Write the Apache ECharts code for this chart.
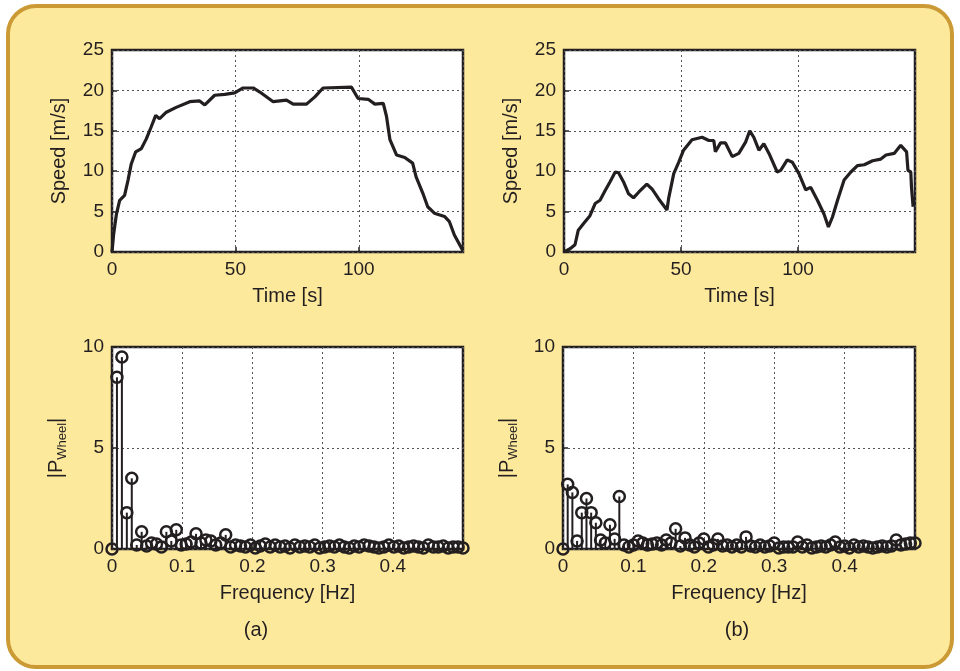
<!DOCTYPE html>
<html lang="en">
<head>
    <meta charset="UTF-8">
    <title>Speed and wheel power spectrum</title>
    <script src="https://cdn.jsdelivr.net/npm/echarts@6/dist/echarts.min.js"></script>
    <style>
        html, body { margin: 0; padding: 0; background: #fff; }
    </style>
</head>
<body>
<div id="chartmain" style="width:960px;height:671px"></div>
<script type="text/javascript">
    // (a) speed profile
    var timeA = [0, 0.7, 1.8, 3.1, 5.1, 6.5, 7.8, 9.6, 11.9, 13.9, 15.9, 17.7, 19.3, 22, 26, 31.5, 35.5, 37.6, 41.6, 45.7, 49.7, 53.1, 57.2, 59.9, 65.3, 70.7, 73.4, 78.8, 82.2, 85.5, 97, 97.7, 99.7, 103.8, 106.5, 109.9, 111.2, 112.6, 115.3, 118.6, 121.8, 123.2, 125.9, 127.9, 130.6, 134.7, 136.7, 138.7, 142.1];
    var speedA = [0, 2.3, 4.7, 6.4, 7, 8.9, 10.9, 12.4, 12.8, 14, 15.5, 16.9, 16.5, 17.3, 17.9, 18.6, 18.7, 18.2, 19.4, 19.5, 19.7, 20.3, 20.3, 19.8, 18.6, 18.8, 18.3, 18.3, 19.2, 20.3, 20.4, 20.2, 19, 18.9, 18.3, 18.4, 16.8, 13.9, 12, 11.7, 11, 9.3, 7.3, 5.6, 4.8, 4.4, 3.75, 2.1, 0.2];

    // (b) speed profile
    var timeB = [0, 2.6, 4.7, 6.1, 8.3, 11.1, 13.3, 15.4, 17.6, 19.7, 21.9, 23.3, 25.4, 27.6, 29.7, 31.9, 35.4, 37.6, 40.4, 44, 44.7, 46.9, 49, 51.1, 54.7, 59, 61.9, 64, 64.7, 66.9, 69, 71.9, 74.7, 77.6, 79.4, 81.1, 83.3, 85.4, 87.6, 91.1, 92.6, 95.4, 97.6, 100.4, 103.3, 105.4, 108.3, 111.1, 113, 114.7, 116.9, 119.7, 122.6, 125.4, 128.3, 131.9, 135.4, 137.6, 141.1, 143.9, 146.4, 147, 148.2, 148.5, 149.2];
    var speedB = [0, 0.4, 0.9, 2.7, 3.5, 4.5, 6, 6.4, 7.6, 8.7, 9.9, 9.8, 8.7, 7.2, 6.7, 7.4, 8.4, 7.8, 6.6, 5.2, 6.6, 9.7, 11.1, 12.6, 13.9, 14.2, 13.8, 13.8, 12.4, 13.5, 13.5, 11.8, 12.2, 13.6, 15, 14.2, 12.6, 13.4, 12.2, 9.9, 10.1, 11.4, 11.1, 9.7, 7.7, 8, 6.4, 4.7, 3.1, 4.3, 6.4, 8.9, 9.9, 10.7, 10.8, 11.3, 11.5, 12, 12.2, 13.2, 12.4, 10.1, 9.9, 8, 5.6];

    // |P_Wheel| spectra, bins k/142 (a) and k/150 (b)
    var pwrA = [0, 8.5, 9.5, 1.8, 3.5, 0.2, 0.85, 0.15, 0.3, 0.25, 0.1, 0.85, 0.4, 0.95, 0.2, 0.25, 0.35, 0.75, 0.3, 0.45, 0.4, 0.2, 0.3, 0.7, 0.1, 0.2,
        0.15, 0.1, 0.2, 0.05, 0.15, 0.25, 0.1, 0.2, 0.1, 0.15, 0.05, 0.2, 0.1, 0.15, 0.1, 0.2, 0.05, 0.1, 0.15, 0.1, 0.2, 0.1, 0.05, 0.15,
        0.1, 0.2, 0.15, 0.1, 0.05, 0.1, 0.2, 0.1, 0.15, 0.05, 0.1, 0.15, 0.1, 0.05, 0.2, 0.1, 0.1, 0.15, 0.05, 0.1, 0.1, 0.05];
    var pwrB = [0, 3.2, 2.8, 0.4, 1.8, 2.5, 1.8, 1.3, 0.45, 0.3, 1.2, 0.5, 2.6, 0.2, 0.1, 0.2, 0.4, 0.3, 0.2, 0.25, 0.3, 0.2, 0.45, 0.3, 1.0, 0.15,
        0.55, 0.2, 0.1, 0.3, 0.5, 0.1, 0.2, 0.5, 0.15, 0.2, 0.1, 0.2, 0.1, 0.6, 0.15, 0.1, 0.2, 0.1, 0.15, 0.3, 0.05, 0.1, 0.1, 0.1,
        0.35, 0.1, 0.2, 0.05, 0.1, 0.15, 0.1, 0.2, 0.35, 0.1, 0.15, 0.05, 0.2, 0.1, 0.15, 0.1, 0.05, 0.1, 0.15, 0.1, 0.15, 0.45, 0.2, 0.25, 0.3, 0.3];

    var ink = '#231f20';
    var font = 'Liberation Sans';

    function pairs(xs, ys) {
        var out = [];
        for (var i = 0; i < xs.length; i++) out.push([xs[i], ys[i]]);
        return out;
    }
    function bins(vals, n) {
        var out = [];
        for (var k = 0; k < vals.length; k++) out.push([k / n, vals[k]]);
        return out;
    }

    // stem: line from 0 up to value, open circle on top
    function stem(params, api) {
        var base = api.coord([api.value(0), 0]);
        var top = api.coord([api.value(0), api.value(1)]);
        return {
            type: 'group',
            children: [
                { type: 'line', shape: { x1: base[0], y1: base[1], x2: top[0], y2: top[1] },
                  style: { stroke: ink, lineWidth: 2 } },
                { type: 'circle', shape: { cx: top[0], cy: top[1], r: 5.5 },
                  style: { fill: 'none', stroke: ink, lineWidth: 2.5 } }
            ]
        };
    }

    var grids = [
        { left: 112, top: 50, width: 351, height: 202 },
        { left: 564, top: 50, width: 351, height: 202 },
        { left: 112, top: 347, width: 351, height: 202 },
        { left: 563, top: 347, width: 352, height: 202 }
    ];
    grids.forEach(function (g) {
        g.show = true;
        g.backgroundColor = '#fff';
        g.borderColor = ink;
        g.borderWidth = 2.5;
        g.z = 1;
    });

    function xAx(idx, max, interval, name) {
        return {
            type: 'value', gridIndex: idx, min: 0, max: max, interval: interval,
            name: name, nameLocation: 'middle', nameGap: 34,
            nameTextStyle: { color: ink, fontSize: 20, fontFamily: font },
            axisLine: { show: false },
            axisTick: { inside: true, length: 5, lineStyle: { color: ink, width: 1.5 } },
            axisLabel: { color: ink, fontSize: 19, fontFamily: font, margin: 8, showMaxLabel: false },
            splitLine: { show: true, lineStyle: { color: '#555', type: [2, 3], width: 1 } },
            z: 3
        };
    }
    function yAx(idx, max, name, rich) {
        return {
            type: 'value', gridIndex: idx, min: 0, max: max, interval: 5,
            name: name, nameLocation: 'middle', nameGap: 43,
            nameTextStyle: { color: ink, fontSize: 20, fontFamily: font, rich: rich },
            axisLine: { show: false },
            axisTick: { inside: true, length: 5, lineStyle: { color: ink, width: 1.5 } },
            axisLabel: { color: ink, fontSize: 19, fontFamily: font, margin: 8 },
            splitLine: { show: true, lineStyle: { color: '#555', type: [2, 3], width: 1 } },
            z: 3
        };
    }

    var pRich = {
        n: { fontSize: 20, fontFamily: font, color: ink, lineHeight: 26, verticalAlign: 'middle' },
        s: { fontSize: 13, fontFamily: font, color: ink, lineHeight: 26, verticalAlign: 'bottom' }
    };
    var pName = '{n||P}{s|Wheel}{n||}';

    var myChart = echarts.init(document.getElementById('chartmain'));
    var option = {
        backgroundColor: '#fff',
        animation: false,
        graphic: [
            { type: 'rect', z: -10, silent: true,
              shape: { x: 8, y: 6, width: 944, height: 661, r: 28 },
              style: { fill: '#fde99c', stroke: '#cc9a34', lineWidth: 4 } },
            { type: 'text', x: 256, y: 630, z: 5,
              style: { text: '(a)', fill: ink, font: '20px ' + font, textAlign: 'center', verticalAlign: 'middle' } },
            { type: 'text', x: 737, y: 630, z: 5,
              style: { text: '(b)', fill: ink, font: '20px ' + font, textAlign: 'center', verticalAlign: 'middle' } }
        ],
        grid: grids,
        xAxis: [
            xAx(0, 142.2, 50, 'Time [s]'),
            xAx(1, 150, 50, 'Time [s]'),
            xAx(2, 0.5, 0.1, 'Frequency [Hz]'),
            xAx(3, 0.5, 0.1, 'Frequency [Hz]')
        ],
        yAxis: [
            yAx(0, 25, 'Speed [m/s]'),
            yAx(1, 25, 'Speed [m/s]'),
            yAx(2, 10, pName, pRich),
            yAx(3, 10, pName, pRich)
        ],
        series: [
            { type: 'line', xAxisIndex: 0, yAxisIndex: 0, data: pairs(timeA, speedA), showSymbol: false,
              lineStyle: { color: ink, width: 3.2 }, z: 4 },
            { type: 'line', xAxisIndex: 1, yAxisIndex: 1, data: pairs(timeB, speedB), showSymbol: false,
              lineStyle: { color: ink, width: 3.2 }, z: 4 },
            { type: 'custom', xAxisIndex: 2, yAxisIndex: 2, data: bins(pwrA, 142), renderItem: stem,
              encode: { x: 0, y: 1 }, clip: false, z: 4 },
            { type: 'custom', xAxisIndex: 3, yAxisIndex: 3, data: bins(pwrB, 150), renderItem: stem,
              encode: { x: 0, y: 1 }, clip: false, z: 4 }
        ]
    };
    myChart.setOption(option);
</script>
</body>
</html>
